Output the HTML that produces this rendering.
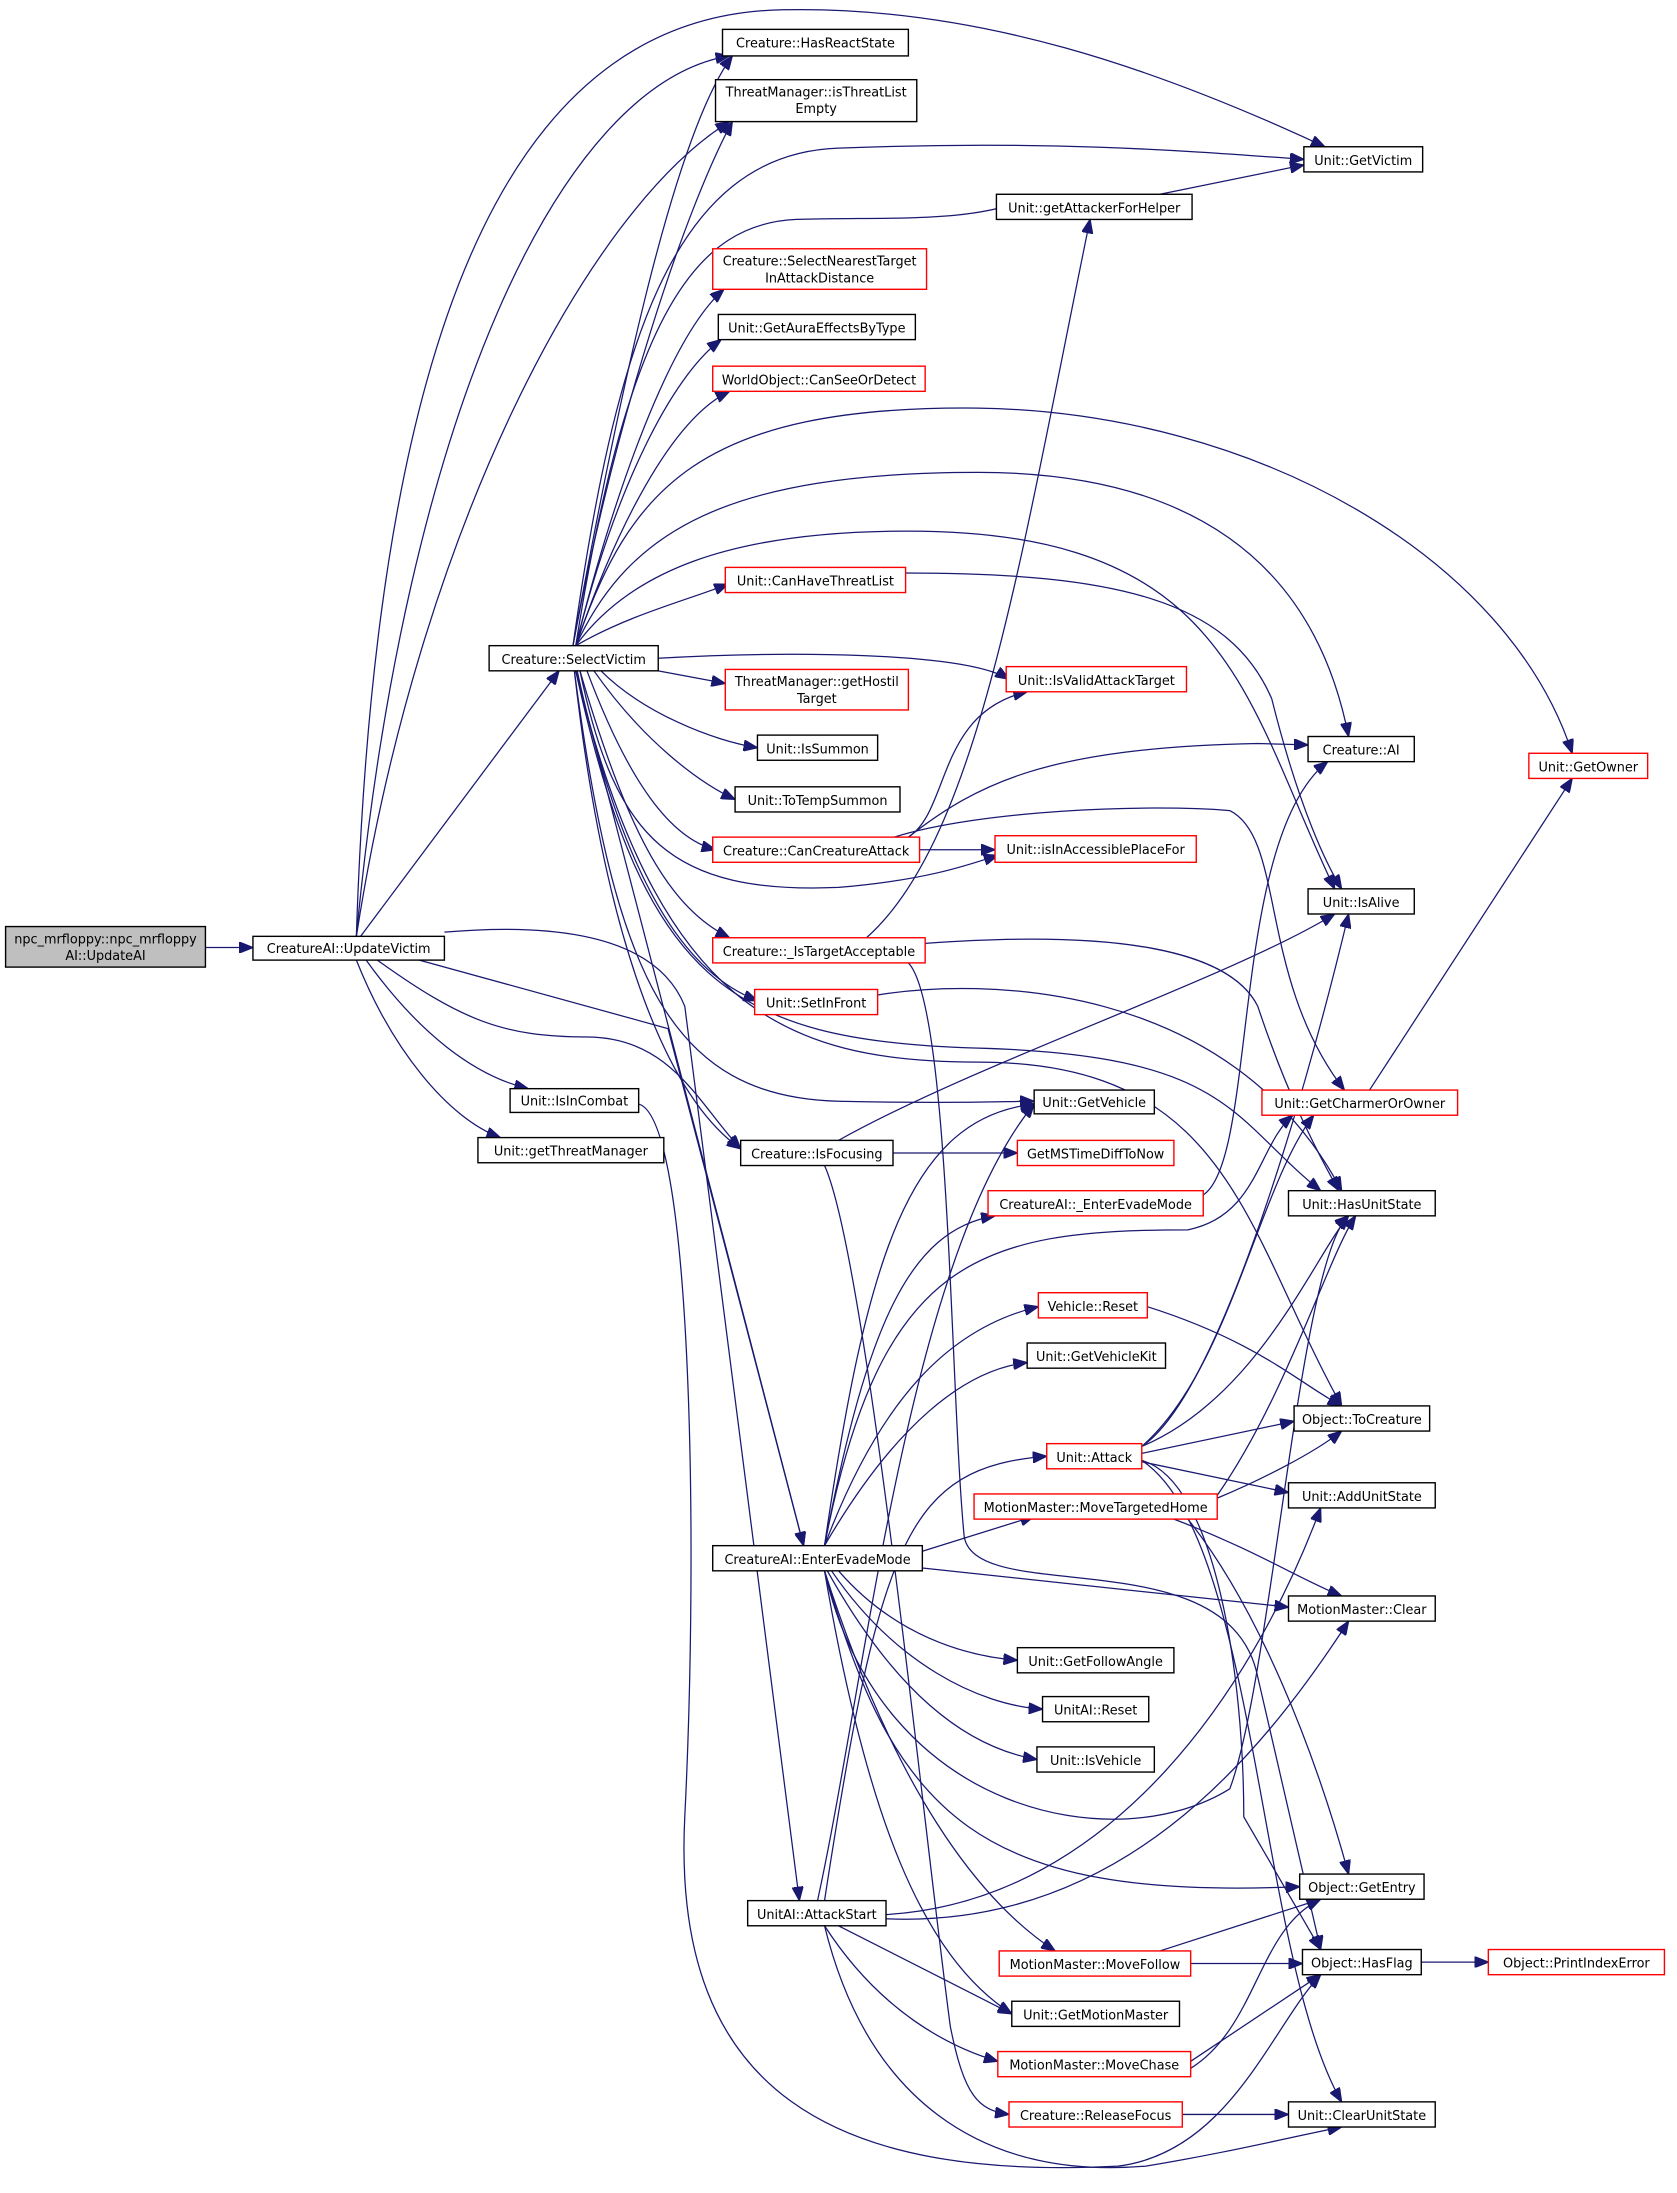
<!DOCTYPE html>
<html><head><meta charset="utf-8"><style>
html,body{margin:0;padding:0;background:#fff;}
svg{display:block;}
text{font-family:"DejaVu Sans","Liberation Sans",sans-serif;font-size:9.2px;fill:#000;text-anchor:middle;}
.n{fill:#fff;stroke:#000;stroke-width:1;}
.r{fill:#fff;stroke:#ff0000;stroke-width:1;}
.g{fill:#bfbfbf;stroke:#000;stroke-width:1;}
path{fill:none;stroke:#191970;stroke-width:0.9;}
</style></head><body>
<svg width="1677" height="2193" viewBox="0 0 1200 1569.2" xmlns="http://www.w3.org/2000/svg">
<defs><marker id="a" markerUnits="userSpaceOnUse" markerWidth="11" markerHeight="8" refX="10" refY="4" orient="auto"><path d="M0,0 L10,4 L0,8 Z" style="fill:#191970;stroke:#191970"/></marker></defs>
<g marker-end="url(#a)">
<path d="M147,678 L181,678"/>
<path d="M258,670 L400,480"/>
<path d="M255,670 C290,300 400,60 522,40"/>
<path d="M255,670 C300,380 420,150 522,87"/>
<path d="M255,670 C270,200 380,10 560,7 C700,4 830,50 948,105"/>
<path d="M262,687 C300,740 340,770 378,779"/>
<path d="M255,687 C280,750 320,800 358,814"/>
<path d="M300,687 L478,736 L575,1106"/>
<path d="M318,667 C400,660 470,670 490,720 L572,1360"/>
<path d="M270,687 C330,730 360,742 420,742 C480,742 500,790 530,822"/>
<path d="M457,790 C495,800 500,1100 490,1300 C480,1500 600,1560 800,1550 C880,1540 910,1450 945,1413"/>
<path d="M410,462 C440,300 480,100 524,40"/>
<path d="M410,462 C440,300 490,150 524,87"/>
<path d="M410,462 C440,250 480,110 600,106 C750,100 850,108 933,114"/>
<path d="M412,462 C450,220 500,160 570,157 C640,155 700,160 740,140"/>
<path d="M412,462 C440,350 480,240 518,207"/>
<path d="M412,462 C440,350 480,270 516,243"/>
<path d="M412,462 C440,380 480,300 522,280"/>
<path d="M412,462 C450,350 500,290 700,292 C900,295 1080,400 1125,539"/>
<path d="M412,462 C450,380 520,338 700,338 C850,338 940,400 965,527"/>
<path d="M412,462 C450,410 520,380 650,380 C880,380 890,500 955,636"/>
<path d="M412,462 C450,440 490,430 521,418"/>
<path d="M471,471 C560,466 690,466 722,486"/>
<path d="M471,480 L519,489"/>
<path d="M430,480 C460,510 510,530 542,535"/>
<path d="M425,480 C460,530 500,560 526,572"/>
<path d="M420,480 C450,560 480,600 512,608"/>
<path d="M415,480 C440,600 480,640 600,635 C660,630 690,620 714,612"/>
<path d="M415,480 C450,600 480,650 522,671"/>
<path d="M413,480 C450,650 500,700 542,716"/>
<path d="M411,480 C430,650 470,780 530,822"/>
<path d="M411,480 C440,700 480,785 600,788 C680,790 720,788 740,788"/>
<path d="M412,480 C460,700 520,745 700,750 C880,755 880,800 945,852"/>
<path d="M412,480 L575,1106"/>
<path d="M412,480 C470,720 560,760 700,760 C880,760 890,880 960,1006"/>
<path d="M590,834 C620,900 660,1300 680,1450 C690,1500 700,1510 722,1513"/>
<path d="M600,816 C700,760 880,700 955,654"/>
<path d="M639,825 L728,825"/>
<path d="M830,139 L933,118"/>
<path d="M648,410 C800,410 880,430 910,500 C930,580 950,620 960,636"/>
<path d="M650,599 C680,580 670,510 735,495"/>
<path d="M650,599 C700,560 750,535 900,532 L936,533"/>
<path d="M658,608 L712,608"/>
<path d="M640,599 C700,580 820,575 880,580 C920,600 900,700 962,780"/>
<path d="M620,671 C700,600 730,400 780,157"/>
<path d="M662,675 C800,665 880,680 900,720 C920,780 940,820 958,852"/>
<path d="M650,689 C680,720 680,1000 690,1100 C700,1150 880,1100 900,1200 L945,1395"/>
<path d="M628,712 C700,700 880,700 960,852"/>
<path d="M861,855 C900,830 880,600 950,545"/>
<path d="M590,1106 C620,900 650,800 740,790"/>
<path d="M590,1106 C620,950 650,880 712,870"/>
<path d="M590,1106 C630,900 700,880 850,880 C900,870 900,820 925,798"/>
<path d="M590,1106 C630,1000 680,950 743,935"/>
<path d="M590,1106 C640,1020 690,980 735,975"/>
<path d="M660,1110 L740,1085"/>
<path d="M660,1122 L922,1150"/>
<path d="M600,1124 C640,1170 690,1185 728,1188"/>
<path d="M595,1124 C640,1190 700,1220 746,1223"/>
<path d="M592,1124 C640,1210 690,1250 742,1259"/>
<path d="M590,1124 C640,1300 700,1360 930,1350"/>
<path d="M590,1124 C630,1300 800,1330 880,1280 C910,1200 930,900 965,870"/>
<path d="M590,1124 C640,1280 700,1360 755,1396"/>
<path d="M590,1124 C620,1300 660,1400 724,1441"/>
<path d="M590,1360 C630,1100 650,1050 749,1042"/>
<path d="M634,1370 C800,1360 900,1200 945,1079"/>
<path d="M634,1373 C800,1380 900,1260 965,1160"/>
<path d="M590,1378 C620,1500 700,1560 820,1550 C880,1540 920,1530 960,1522"/>
<path d="M600,1378 L724,1441"/>
<path d="M590,1378 C630,1440 680,1465 714,1475"/>
<path d="M585,1360 C620,1200 650,900 740,790"/>
<path d="M817,1040 L926,1017"/>
<path d="M817,1046 L922,1068"/>
<path d="M817,1035 C870,1000 930,800 965,654"/>
<path d="M817,1035 C900,1000 940,900 965,870"/>
<path d="M817,1035 C880,980 900,850 940,798"/>
<path d="M817,1045 C870,1060 890,1200 890,1300 L945,1395"/>
<path d="M817,1045 C900,1100 900,1400 960,1504"/>
<path d="M821,935 C900,960 930,990 960,1006"/>
<path d="M840,1087 C900,1110 930,1130 960,1142"/>
<path d="M850,1087 C900,1150 940,1250 965,1341"/>
<path d="M871,1072 C900,1060 940,1040 960,1024"/>
<path d="M871,1070 C920,1000 950,900 970,870"/>
<path d="M830,1396 L945,1359"/>
<path d="M852,1405 L932,1405"/>
<path d="M852,1480 C900,1450 900,1380 945,1359"/>
<path d="M852,1475 L945,1413"/>
<path d="M846,1513 L922,1513"/>
<path d="M1017,1404 L1065,1404"/>
<path d="M980,780 L1125,557"/>
</g>
<g>
<rect class="g" x="4" y="663" width="143" height="29"/><text x="75.5" y="675">npc_mrfloppy::npc_mrfloppy</text><text x="75.5" y="687">AI::UpdateAI</text>
<rect class="n" x="181" y="670" width="137" height="17"/><text x="249.5" y="682">CreatureAI::UpdateVictim</text>
<rect class="n" x="365" y="779" width="92" height="17"/><text x="411" y="791">Unit::IsInCombat</text>
<rect class="n" x="342" y="814" width="133" height="18"/><text x="408.5" y="827">Unit::getThreatManager</text>
<rect class="n" x="350" y="462" width="121" height="18"/><text x="410.5" y="475">Creature::SelectVictim</text>
<rect class="n" x="517" y="21" width="133" height="19"/><text x="583.5" y="34">Creature::HasReactState</text>
<rect class="n" x="512" y="57" width="144" height="30"/><text x="584" y="69">ThreatManager::isThreatList</text><text x="584" y="81">Empty</text>
<rect class="n" x="933" y="105" width="85" height="18"/><text x="975.5" y="118">Unit::GetVictim</text>
<rect class="n" x="713" y="139" width="140" height="18"/><text x="783" y="152">Unit::getAttackerForHelper</text>
<rect class="r" x="510" y="178" width="153" height="29"/><text x="586.5" y="190">Creature::SelectNearestTarget</text><text x="586.5" y="202">InAttackDistance</text>
<rect class="n" x="514" y="225" width="141" height="18"/><text x="584.5" y="238">Unit::GetAuraEffectsByType</text>
<rect class="r" x="510" y="262" width="152" height="18"/><text x="586" y="275">WorldObject::CanSeeOrDetect</text>
<rect class="r" x="519" y="406" width="129" height="18"/><text x="583.5" y="419">Unit::CanHaveThreatList</text>
<rect class="r" x="519" y="479" width="131" height="29"/><text x="584.5" y="491">ThreatManager::getHostil</text><text x="584.5" y="503">Target</text>
<rect class="n" x="542" y="526" width="86" height="18"/><text x="585" y="539">Unit::IsSummon</text>
<rect class="n" x="526" y="563" width="118" height="18"/><text x="585" y="576">Unit::ToTempSummon</text>
<rect class="r" x="510" y="599" width="148" height="18"/><text x="584" y="612">Creature::CanCreatureAttack</text>
<rect class="r" x="510" y="671" width="152" height="18"/><text x="586" y="684">Creature::_IsTargetAcceptable</text>
<rect class="r" x="540" y="708" width="88" height="18"/><text x="584" y="721">Unit::SetInFront</text>
<rect class="n" x="530" y="816" width="109" height="18"/><text x="584.5" y="829">Creature::IsFocusing</text>
<rect class="n" x="510" y="1106" width="150" height="18"/><text x="585" y="1119">CreatureAI::EnterEvadeMode</text>
<rect class="n" x="535" y="1360" width="99" height="18"/><text x="584.5" y="1373">UnitAI::AttackStart</text>
<rect class="r" x="720" y="477" width="129" height="18"/><text x="784.5" y="490">Unit::IsValidAttackTarget</text>
<rect class="r" x="712" y="598" width="144" height="19"/><text x="784" y="611">Unit::isInAccessiblePlaceFor</text>
<rect class="n" x="740" y="780" width="86" height="17"/><text x="783" y="792">Unit::GetVehicle</text>
<rect class="r" x="728" y="816" width="112" height="18"/><text x="784" y="829">GetMSTimeDiffToNow</text>
<rect class="r" x="707" y="852" width="154" height="18"/><text x="784" y="865">CreatureAI::_EnterEvadeMode</text>
<rect class="r" x="743" y="925" width="78" height="18"/><text x="782" y="938">Vehicle::Reset</text>
<rect class="n" x="735" y="961" width="99" height="18"/><text x="784.5" y="974">Unit::GetVehicleKit</text>
<rect class="r" x="749" y="1033" width="68" height="18"/><text x="783" y="1046">Unit::Attack</text>
<rect class="r" x="697" y="1069" width="174" height="18"/><text x="784" y="1082">MotionMaster::MoveTargetedHome</text>
<rect class="n" x="728" y="1179" width="112" height="18"/><text x="784" y="1192">Unit::GetFollowAngle</text>
<rect class="n" x="746" y="1214" width="76" height="18"/><text x="784" y="1227">UnitAI::Reset</text>
<rect class="n" x="742" y="1250" width="84" height="18"/><text x="784" y="1263">Unit::IsVehicle</text>
<rect class="r" x="715" y="1396" width="137" height="18"/><text x="783.5" y="1409">MotionMaster::MoveFollow</text>
<rect class="n" x="724" y="1432" width="120" height="18"/><text x="784" y="1445">Unit::GetMotionMaster</text>
<rect class="r" x="714" y="1468" width="138" height="18"/><text x="783" y="1481">MotionMaster::MoveChase</text>
<rect class="r" x="722" y="1504" width="124" height="18"/><text x="784" y="1517">Creature::ReleaseFocus</text>
<rect class="n" x="936" y="527" width="76" height="18"/><text x="974" y="540">Creature::AI</text>
<rect class="n" x="936" y="636" width="76" height="18"/><text x="974" y="649">Unit::IsAlive</text>
<rect class="r" x="903" y="780" width="140" height="18"/><text x="973" y="793">Unit::GetCharmerOrOwner</text>
<rect class="n" x="922" y="852" width="105" height="18"/><text x="974.5" y="865">Unit::HasUnitState</text>
<rect class="n" x="926" y="1006" width="97" height="18"/><text x="974.5" y="1019">Object::ToCreature</text>
<rect class="n" x="922" y="1061" width="105" height="18"/><text x="974.5" y="1074">Unit::AddUnitState</text>
<rect class="n" x="922" y="1142" width="105" height="18"/><text x="974.5" y="1155">MotionMaster::Clear</text>
<rect class="n" x="930" y="1341" width="89" height="18"/><text x="974.5" y="1354">Object::GetEntry</text>
<rect class="n" x="932" y="1395" width="85" height="18"/><text x="974.5" y="1408">Object::HasFlag</text>
<rect class="n" x="922" y="1504" width="105" height="18"/><text x="974.5" y="1517">Unit::ClearUnitState</text>
<rect class="r" x="1094" y="539" width="85" height="18"/><text x="1136.5" y="552">Unit::GetOwner</text>
<rect class="r" x="1065" y="1395" width="126" height="18"/><text x="1128" y="1408">Object::PrintIndexError</text>
</g>
</svg>
</body></html>
